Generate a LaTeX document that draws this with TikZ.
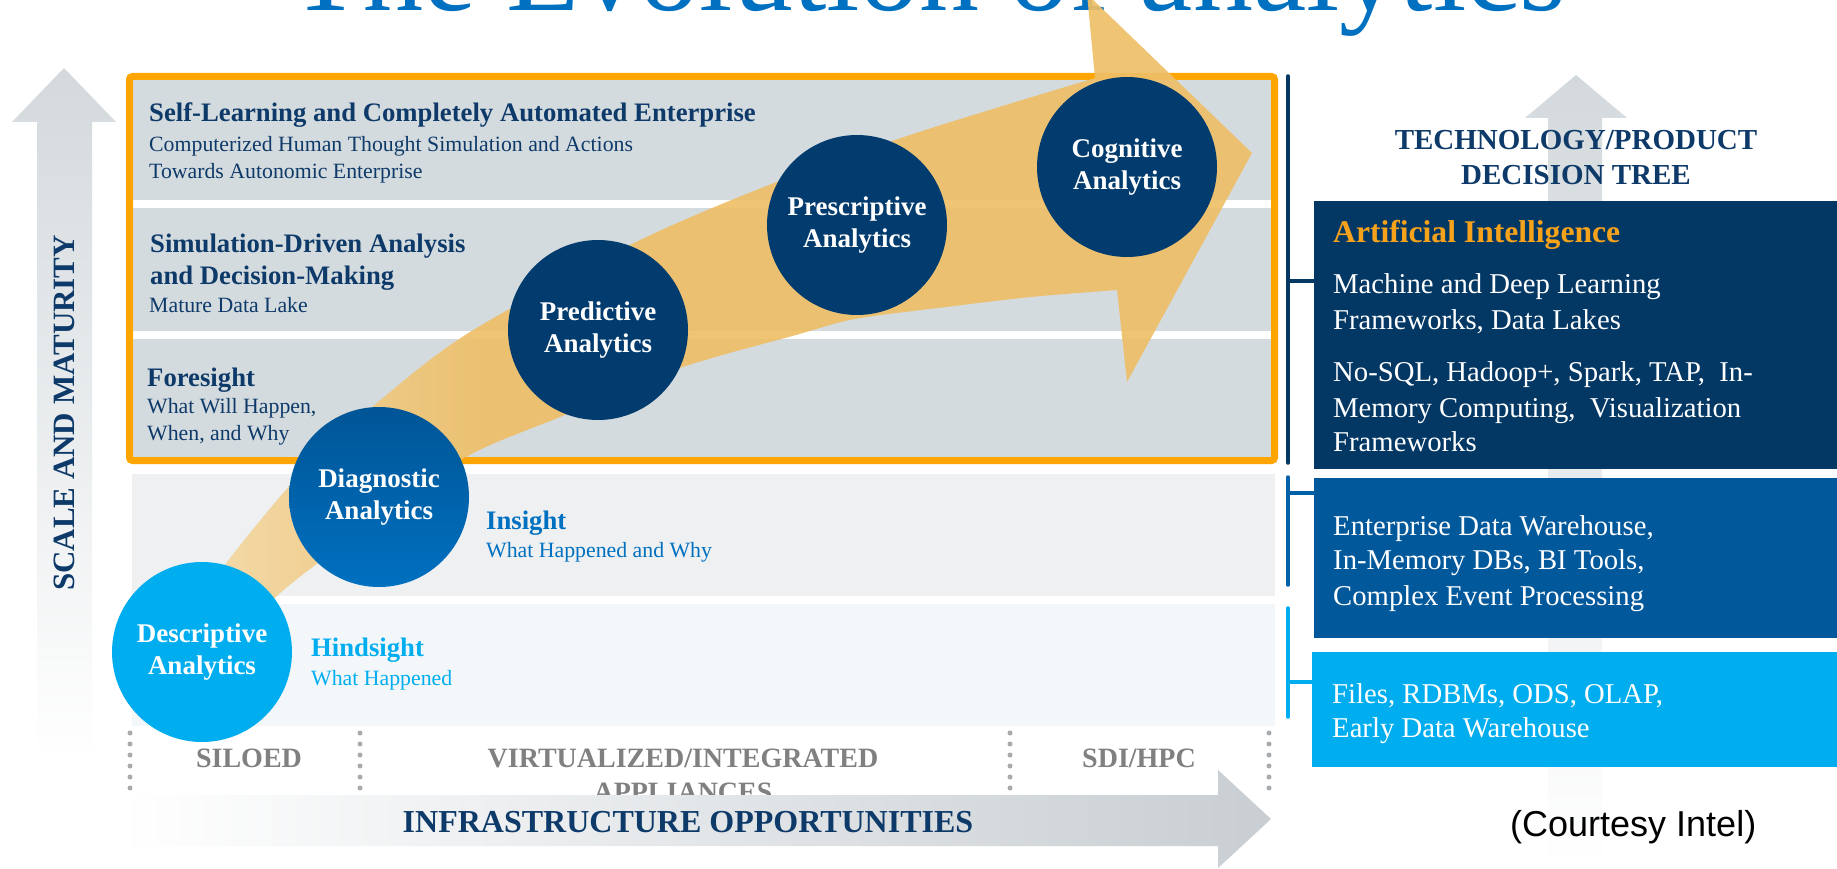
\documentclass[tikz,border=0pt]{standalone}
\usepackage{fontspec}
\setmainfont{Liberation Serif}
\newfontfamily\arialfont{Liberation Sans}
\usetikzlibrary{calc}
\definecolor{navy}{HTML}{0E3A6A}
\definecolor{circnavy}{HTML}{023B6E}
\definecolor{medblue}{HTML}{0070C0}
\definecolor{diagtop}{HTML}{005596}
\definecolor{brack2}{HTML}{0060A8}
\definecolor{cyanb}{HTML}{00AEEF}
\definecolor{band}{HTML}{D4DBDE}
\definecolor{bandins}{HTML}{EEF0F2}
\definecolor{bandhind}{HTML}{F4F7F9}
\definecolor{orangef}{HTML}{FFA500}
\definecolor{arrowcol}{HTML}{EEBF68}
\definecolor{arrowlight}{HTML}{F5DDB0}
\definecolor{aiboxc}{HTML}{033865}
\definecolor{midbox}{HTML}{01589B}
\definecolor{greyarrow}{HTML}{D3D9DC}
\definecolor{greyarrowb}{HTML}{C8CED2}
\definecolor{greytext}{HTML}{808080}
\definecolor{dotgrey}{HTML}{A8ABAE}
\definecolor{aiorange}{HTML}{F7A21B}
\pgfdeclarehorizontalshading{arrowshade}{100bp}{color(0bp)=(arrowlight); color(25bp)=(arrowlight); color(40bp)=(arrowcol); color(100bp)=(arrowcol)}
\tikzset{
  circ/.style={circle, minimum size=180pt, inner sep=0pt, text=white,
    font=\fontsize{27}{32}\selectfont\bfseries, align=center},
  headtxt/.style={font=\fontsize{26.7}{31}\selectfont\bfseries, text=navy, anchor=base west, inner sep=0pt},
  subtxt/.style={font=\fontsize{21.8}{26}\selectfont, text=navy, anchor=base west, inner sep=0pt},
  rtext/.style={font=\fontsize{28.7}{34}\selectfont, text=white, anchor=base west, inner sep=0pt},
  panel/.style={anchor=north west, inner sep=0pt, minimum width=525pt},
  infra/.style={font=\fontsize{28}{34}\selectfont\bfseries, text=greytext, anchor=base, inner sep=0pt},
  dots/.style={dotgrey, line width=5pt, line cap=round, dash pattern=on 0pt off 11pt},
  bracket/.style={line width=3.5pt, line cap=round},
}
\begin{document}
\begin{tikzpicture}[x=1pt, y={(0pt,-1pt)}]
\useasboundingbox (0,0) rectangle (1837,869);
\fill[white] (0,0) rectangle (1837,869);

% title (cut by the page top, as in the reference)
\node[font=\fontsize{120}{124}\selectfont, text=medblue, anchor=base, inner sep=0pt] (title) at (928,11) {The Evolution of analytics};

% grey arrows
\shade[top color=greyarrow, bottom color=white] (37,760) -- (37,122) -- (12,122) -- (64,68) -- (116,122) -- (92,122) -- (92,760) -- cycle;
\shade[top color=greyarrow, bottom color=white] (1548,869) -- (1548,118) -- (1525,118) -- (1576,75) -- (1627,118) -- (1602,118) -- (1602,869) -- cycle;

\node[rotate=90, font=\fontsize{31}{36}\selectfont\bfseries, text=navy, inner sep=0pt] (scale) at (64,413) {SCALE AND MATURITY};

% bands
\fill[band] (133,80) rectangle (1271,200);
\fill[band] (133,208) rectangle (1271,331);
\fill[band] (133,339) rectangle (1271,457);
\draw[orangef, line width=7pt, rounded corners=3pt] (129.5,76.5) rectangle (1274.5,460.5);
\fill[bandins] (132,474) rectangle (1275,596);
\fill[bandhind] (132,604) rectangle (1275,726);

% orange evolution arrow
\shade[shading=arrowshade, opacity=0.92]
  plot[smooth] coordinates {(150,700) (180,630) (227,562) (301,473) (377,403) (470,332) (636,242) (774,183) (901,138) (996,108) (1095,78)}
  -- (1087,-6) -- (1252,153) -- (1127,382) --
  plot[smooth] coordinates {(1117,290) (1031,297) (946,307) (855,319) (796,335) (680,368) (560,417) (466,457) (370,525) (278,595) (230,655) (190,712)}
  -- cycle;

% left texts
\node[headtxt] (selfl) at (149,122) {Self-Learning and Completely Automated Enterprise};
\node[subtxt] (comp) at (149,152) {Computerized Human Thought Simulation and Actions};
\node[subtxt] (tow) at (149,179) {Towards Autonomic Enterprise};
\node[headtxt] (simd) at (150,253) {Simulation-Driven Analysis};
\node[headtxt] (andd) at (150,284) {and Decision-Making};
\node[subtxt] (mat) at (149,312) {Mature Data Lake};
\node[headtxt] (fore) at (147,386) {Foresight};
\node[subtxt] (wwh) at (147,413) {What Will Happen,};
\node[subtxt] (wwy) at (147,440) {When, and Why};
\node[headtxt, text=medblue] (ins) at (486,529) {Insight};
\node[subtxt, text=medblue] (whw) at (486,557) {What Happened and Why};
\node[headtxt, text=cyanb] (hind) at (311,656) {Hindsight};
\node[subtxt, text=cyanb] (wh) at (311,685) {What Happened};

% circles
\node[circ, fill=circnavy] (cog) at (1127,167) {Cognitive\\Analytics};
\node[circ, fill=circnavy] (pres) at (857,225) {Prescriptive\\Analytics};
\node[circ, fill=circnavy] (pred) at (598,330) {Predictive\\Analytics};
\node[circ, top color=diagtop, bottom color=medblue] (diag) at (379,497) {Diagnostic\\Analytics};
\node[circ, fill=cyanb] (desc) at (202,652) {Descriptive\\Analytics};

% bottom infrastructure row
\coordinate (d1t) at (130,733); \coordinate (d1b) at (130,792);
\coordinate (d2t) at (360,733); \coordinate (d2b) at (360,792);
\coordinate (d3t) at (1010,733); \coordinate (d3b) at (1010,792);
\coordinate (d4t) at (1269,733); \coordinate (d4b) at (1269,792);
\draw[dots] (d1t) -- (d1b);
\draw[dots] (d2t) -- (d2b);
\draw[dots] (d3t) -- (d3b);
\draw[dots] (d4t) -- (d4b);
\node[infra] (silo) at (249,767) {SILOED};
\node[infra] (virt) at (683,767) {VIRTUALIZED/INTEGRATED};
\node[infra] (appl) at (683,801) {APPLIANCES};
\node[infra] (sdi) at (1139,767) {SDI/HPC};
\shade[left color=white, right color=greyarrowb] (120,795) -- (1218,795) -- (1218,770) -- (1271,819) -- (1218,868) -- (1218,846) -- (120,846) -- cycle;
\node[font=\fontsize{32}{36}\selectfont\bfseries, text=navy, anchor=base, inner sep=0pt] (infr) at (688,832) {INFRASTRUCTURE OPPORTUNITIES};

% right panel
\node[font=\fontsize{29}{35}\selectfont\bfseries, text=navy, inner sep=0pt, anchor=base] (tech) at (1576,150) {TECHNOLOGY/PRODUCT};
\node[font=\fontsize{29}{35}\selectfont\bfseries, text=navy, inner sep=0pt, anchor=base] (dtree) at (1576,185) {DECISION TREE};

\node[panel, fill=aiboxc, minimum height=268pt] (ai) at (1314,201) {};
\node[panel, fill=midbox, minimum height=160pt] (mid) at (1314,478) {};
\node[panel, fill=cyanb, minimum height=115pt, minimum width=527pt] (low) at (1312,652) {};

\node[font=\fontsize{31.6}{36}\selectfont\bfseries, text=aiorange, anchor=base west, inner sep=0pt] (ait) at (1333,243) {Artificial Intelligence};
\node[rtext] (r1) at (1333,294) {Machine and Deep Learning};
\node[rtext] (r2) at (1333,329) {Frameworks, Data Lakes};
\node[rtext] (r3) at (1333,381) {No-SQL, Hadoop+, Spark, TAP,~~In-};
\node[rtext] (r4) at (1333,417) {Memory Computing,~~Visualization};
\node[rtext] (r5) at (1333,451) {Frameworks};
\node[rtext] (r6) at (1333,535) {Enterprise Data Warehouse,};
\node[rtext] (r7) at (1333,569) {In-Memory DBs, BI Tools,};
\node[rtext] (r8) at (1333,605) {Complex Event Processing};
\node[rtext] (r9) at (1332,703) {Files, RDBMs, ODS, OLAP,};
\node[rtext] (r10) at (1332,737) {Early Data Warehouse};

% brackets
\coordinate (b1t) at (1288,76); \coordinate (b1b) at (1288,463); \coordinate (b1m) at (1288,281);
\coordinate (b2t) at (1288,477); \coordinate (b2b) at (1288,585); \coordinate (b2m) at (1288,493);
\coordinate (b3t) at (1288,608); \coordinate (b3b) at (1288,717); \coordinate (b3m) at (1288,682);
\draw[bracket, aiboxc] (b1t) -- (b1b);
\draw[line width=3.5pt, aiboxc] (b1m) -- (b1m -| ai.west);
\draw[bracket, brack2] (b2t) -- (b2b);
\draw[line width=3.5pt, brack2] (b2m) -- (b2m -| mid.west);
\draw[bracket, cyanb] (b3t) -- (b3b);
\draw[line width=3.5pt, cyanb] (b3m) -- (b3m -| low.west);

\node[font=\arialfont\fontsize{36}{42}\selectfont, text=black, anchor=base west, inner sep=0pt] (court) at (1510,836) {(Courtesy Intel)};
\end{tikzpicture}
\end{document}
